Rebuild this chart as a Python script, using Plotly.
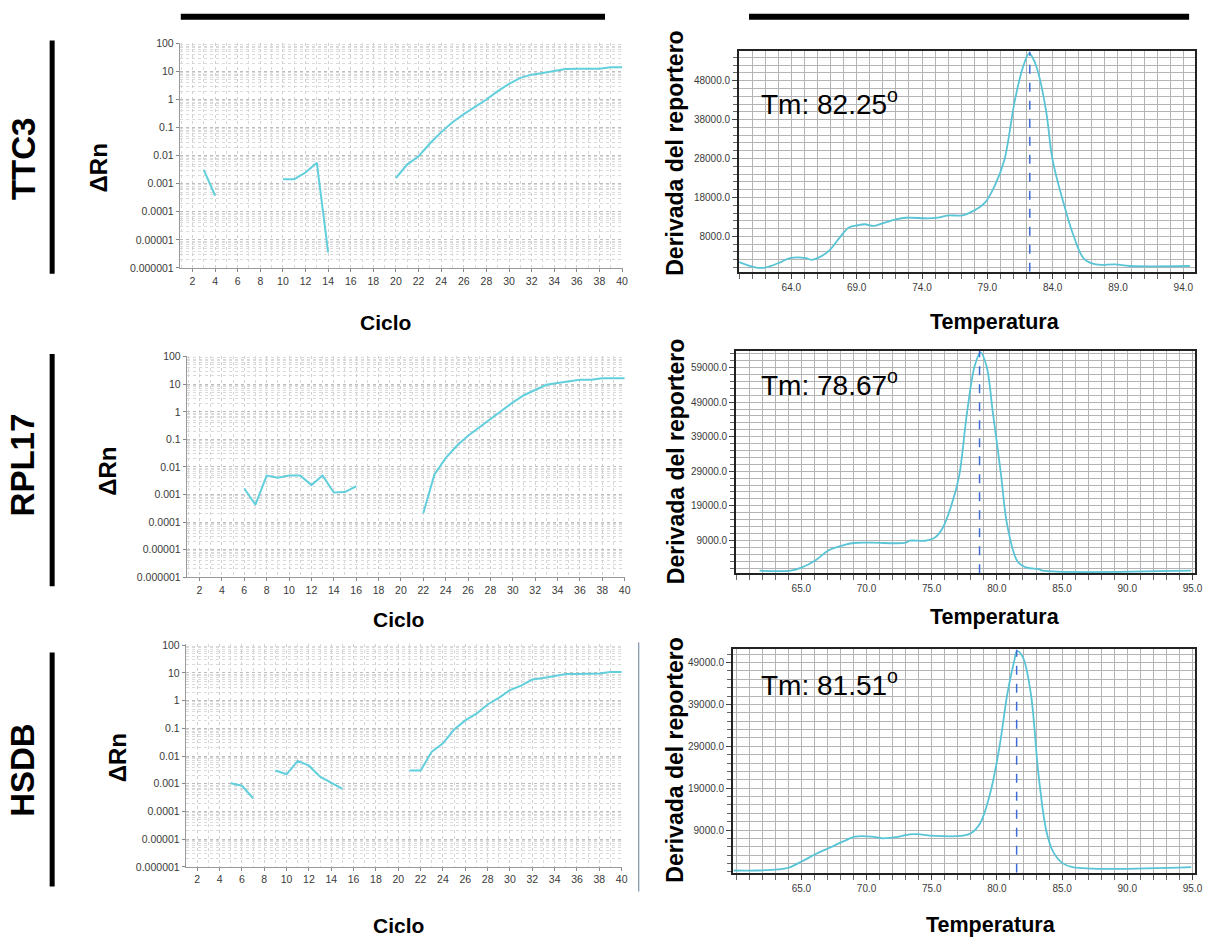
import plotly.graph_objects as go

W, H = 1214, 945

genes = ["TTC3", "RPL17", "HSDB"]
cycles = list(range(1, 41))
N = None
drn_ttc3 = [N, N, 0.0031, 0.00038, N, N, N, N, N, 0.00145, 0.00145, 0.0025, 0.0056, 3.6e-6,
            N, N, N, N, N, 0.0016, 0.0049, 0.0095, 0.027, 0.069, 0.155, 0.30, 0.55, 1.0, 2.0, 3.6,
            5.9, 7.7, 8.9, 10.7, 12.3, 12.6, 12.3, 12.6, 14.1, 14.1]
drn_rpl17 = [N, N, N, N, N, 0.00165, 0.00043, 0.0049, 0.0041, 0.0049, 0.0049, 0.0022, 0.0049,
             0.00118, 0.00123, 0.0020, N, N, N, N, N, 0.00021, 0.0054, 0.021, 0.059, 0.135, 0.275,
             0.55, 1.15, 2.2, 4.0, 6.3, 9.6, 11.2, 13.0, 14.5, 14.5, 16.6, 16.6, 16.6]
drn_hsdb = [N, N, N, N, 0.00105, 0.00085, 0.0003, N, 0.0030, 0.0022, 0.0067, 0.0045, 0.0018,
            0.00105, 0.00065, N, N, N, N, N, 0.003, 0.003, 0.0145, 0.029, 0.091, 0.194, 0.34,
            0.73, 1.26, 2.4, 3.5, 5.8, 6.6, 8.0, 9.2, 9.2, 9.2, 9.5, 10.9, 10.9]

log_tickvals = [1e-6, 1e-5, 1e-4, 1e-3, 1e-2, 1e-1, 1, 10, 100]
log_ticktext = ["0.000001", "0.00001", "0.0001", "0.001", "0.01", "0.1", "1", "10", "100"]

t_ttc3 = [60.0, 61.3, 62.0, 63.2, 63.9, 65.1, 65.5, 66.0, 66.9, 67.6, 68.4, 69.1, 69.6, 70.3, 70.9,
          72.0, 72.8, 74.4, 75.2, 76.0, 77.1, 77.9, 78.8, 79.6, 80.3, 81.1, 81.7, 82.2, 82.5, 82.9,
          83.5, 84.0, 84.9, 85.6, 86.4, 87.3, 88.8, 89.9, 94.5]
d_ttc3 = [1420, 0, 0, 1420, 2430, 2430, 2000, 2430, 4370, 7300, 10280, 10870, 11120, 10700, 11300,
          12390, 12800, 12640, 12800, 13400, 13400, 14500, 16600, 21250, 27600, 42800, 51200, 55000,
          53700, 50000, 40200, 27600, 15800, 8170, 2260, 830, 830, 400, 400]
t_rpl17 = [61.8, 64.2, 65.0, 66.1, 67.1, 68.2, 69.0, 70.4, 73.0, 73.3, 74.5, 75.2, 75.8, 76.5, 77.1,
           77.7, 78.3, 78.75, 79.2, 79.7, 80.3, 80.8, 81.6, 82.3, 83.2, 83.5, 94.9]
d_rpl17 = [240, 240, 1100, 3290, 6140, 7570, 8240, 8330, 8330, 8900, 8900, 9670, 12300, 19000, 27570,
           45670, 59480, 63400, 59480, 45670, 28520, 13290, 2810, 1100, 710, 240, 240]
t_hsdb = [59.8, 61.6, 63.2, 64.0, 65.05, 66.1, 67.2, 68.3, 69.1, 70.4, 71.2, 72.5, 73.3, 74.1, 74.9,
          77.4, 78.0, 78.7, 79.5, 80.2, 80.8, 81.3, 81.55, 82.0, 82.6, 83.2, 83.8, 84.3, 85.0, 85.8, 94.9]
d_hsdb = [-650, -650, -410, 0, 1550, 3270, 4840, 6410, 7430, 7430, 7040, 7430, 7980, 7980, 7670,
          7670, 8220, 10570, 18020, 29000, 41550, 49000, 51700, 50180, 41550, 21940, 8610, 3900, 1160,
          140, 140]
tm_values = [82.25, 78.67, 81.51]
tm_labels = ["Tm: 82.25<sup>o</sup>", "Tm: 78.67<sup>o</sup>", "Tm: 81.51<sup>o</sup>"]

# layout geometry (pixels): x0, x1, ytop, ybottom
amp_boxes = [(181, 627, 38, 266), (188, 629, 355, 579), (187, 626, 647, 872)]
amp_xr = [[0.88, 40.07], [0.86, 40.02], [0.97, 40.02]]
melt_boxes = [(744, 1203, 47, 270), (741, 1203, 350, 575), (738, 1203, 652, 878)]
melt_xr = [[60, 94.9], [60, 95.2], [59.76, 95.2]]
melt_yr = [[-1100, 55500], [-520, 63800], [-1200, 52140]]
melt_xticks = [[64, 69, 74, 79, 84, 89, 94], [65, 70, 75, 80, 85, 90, 95], [65, 70, 75, 80, 85, 90, 95]]
melt_yticks = [[8000, 18000, 28000, 38000, 48000], [9000, 19000, 29000, 39000, 49000, 59000],
               [9000, 19000, 29000, 39000, 49000]]


def fx(p):
    return p / W


def fy(p):
    return 1 - p / H


AMP_COLOR = "#62CFDD"
MELT_COLOR = "#58C4D6"
TM_COLOR = "#3D6CD6"
AMP_TICKFONT = dict(family="Liberation Sans, Arial", size=10.5, color="#3a3a3a")
MELT_TICKFONT = dict(family="Liberation Sans, Arial", size=10, color="#3a3a3a")
BOLD = "Liberation Sans, Arial, sans-serif"

fig = go.Figure()
layout = dict(width=W, height=H, margin=dict(l=0, r=0, t=0, b=0), paper_bgcolor="white",
              plot_bgcolor="white", showlegend=False)

amp_data = [drn_ttc3, drn_rpl17, drn_hsdb]
melt_t = [t_ttc3, t_rpl17, t_hsdb]
melt_d = [d_ttc3, d_rpl17, d_hsdb]

for i in range(3):
    ka = 2 * i + 1
    km = 2 * i + 2
    x0, x1, y0, y1 = amp_boxes[i]
    layout[f"xaxis{ka}"] = dict(domain=[fx(x0), fx(x1)], anchor=f"y{ka}", range=amp_xr[i],
                                tickmode="array", tickvals=list(range(2, 41, 2)),
                                ticks="outside", ticklen=3, tickcolor="#888",
                                showline=True, linecolor="#9a9a9a", linewidth=1,
                                showgrid=True, gridcolor="#d0d0d0", griddash="dot", gridwidth=1,
                                minor=dict(dtick=1, tick0=1, showgrid=True, gridcolor="#d8d8d8",
                                           griddash="dot"),
                                tickfont=AMP_TICKFONT, zeroline=False, mirror=False)
    layout[f"yaxis{ka}"] = dict(domain=[fy(y1), fy(y0)], anchor=f"x{ka}", type="log",
                                range=[-6, 2.03], tickmode="array", tickvals=log_tickvals,
                                ticktext=log_ticktext, ticks="outside", ticklen=3, tickcolor="#888",
                                showline=True, linecolor="#9a9a9a", linewidth=1,
                                showgrid=True, gridcolor="#bdbdbd", griddash="dot",
                                minor=dict(dtick="D1", showgrid=True, gridcolor="#dadada",
                                           griddash="dot"),
                                tickfont=AMP_TICKFONT, zeroline=False)
    fig.add_trace(go.Scatter(x=cycles, y=amp_data[i], mode="lines", connectgaps=False,
                             line=dict(color=AMP_COLOR, width=2),
                             xaxis=f"x{ka}", yaxis=f"y{ka}"))

    mx0, mx1, my0, my1 = melt_boxes[i]
    layout[f"xaxis{km}"] = dict(domain=[fx(mx0), fx(mx1)], anchor=f"y{km}", range=melt_xr[i],
                                tickmode="array", tickvals=melt_xticks[i],
                                ticktext=[f"{v:.1f}" for v in melt_xticks[i]],
                                ticks="outside", ticklen=5, tickcolor="#444",
                                showline=True, linecolor="#222", linewidth=2, mirror=True,
                                showgrid=True, gridcolor="#b4b4b4", gridwidth=1,
                                minor=dict(dtick=1, tick0=60, showgrid=True, gridcolor="#b4b4b4",
                                           ticks="outside", ticklen=5, tickcolor="#666"),
                                tickfont=MELT_TICKFONT, zeroline=False)
    layout[f"yaxis{km}"] = dict(domain=[fy(my1), fy(my0)], anchor=f"x{km}", range=melt_yr[i],
                                tickmode="array", tickvals=melt_yticks[i],
                                ticktext=[f"{v:.1f}" for v in melt_yticks[i]],
                                ticks="outside", ticklen=5, tickcolor="#444",
                                showline=True, linecolor="#222", linewidth=2, mirror=True,
                                showgrid=True, gridcolor="#b4b4b4", gridwidth=1,
                                minor=dict(dtick=2000, tick0=melt_yticks[i][0], showgrid=True,
                                           gridcolor="#b4b4b4", ticks="outside", ticklen=4,
                                           tickcolor="#666"),
                                tickfont=MELT_TICKFONT, zeroline=False)
    fig.add_trace(go.Scatter(x=melt_t[i], y=melt_d[i], mode="lines", line_shape="spline",
                             line=dict(color=MELT_COLOR, width=1.8),
                             xaxis=f"x{km}", yaxis=f"y{km}"))
    fig.add_trace(go.Scatter(x=[tm_values[i], tm_values[i]], y=[melt_yr[i][0], melt_yr[i][1]],
                             mode="lines", line=dict(color=TM_COLOR, width=1.5, dash="dash"),
                             xaxis=f"x{km}", yaxis=f"y{km}"))

fig.update_layout(**layout)

ann = []
for g, yy in zip(genes, [155, 465, 774]):
    ann.append(dict(text=f"<b>{g}</b>", x=fx(23), y=fy(yy), textangle=-90,
                    font=dict(family=BOLD, size=33, color="black")))
for (xx, yy) in [(99, 165), (108, 472), (118, 762)]:
    ann.append(dict(text="<b>ΔRn</b>", x=fx(xx), y=fy(yy), textangle=-90,
                    font=dict(family=BOLD, size=24, color="black")))
for (xx, yy) in [(388, 321), (401, 622), (401, 931)]:
    ann.append(dict(text="<b>Ciclo</b>", x=fx(xx), y=fy(yy),
                    font=dict(family=BOLD, size=21, color="black")))
for (xx, yy) in [(680, 150), (680, 462), (680, 764)]:
    ann.append(dict(text="<b>Derivada del reportero</b>", x=fx(xx), y=fy(yy), textangle=-90,
                    font=dict(family=BOLD, size=23, color="black")))
for (xx, yy) in [(1002, 321), (1002, 619), (998, 931)]:
    ann.append(dict(text="<b>Temperatura</b>", x=fx(xx), y=fy(yy),
                    font=dict(family=BOLD, size=21.5, color="black")))
for lab, yy in zip(tm_labels, [98, 382, 686]):
    ann.append(dict(text=lab, x=fx(764), y=fy(yy), xanchor="left",
                    font=dict(family="Liberation Sans, Arial", size=28, color="black")))
for a in ann:
    a.update(xref="paper", yref="paper", showarrow=False)
    a.setdefault("xanchor", "center")
    a.setdefault("yanchor", "middle")
fig.update_layout(annotations=ann)

shapes = []
for (a, b) in [(182, 609), (754, 1197)]:
    shapes.append(dict(type="line", x0=fx(a), x1=fx(b), y0=fy(12), y1=fy(12),
                       line=dict(color="black", width=6)))
for (a, b) in [(36, 272), (353, 588), (655, 892)]:
    shapes.append(dict(type="line", x0=fx(52.5), x1=fx(52.5), y0=fy(a), y1=fy(b),
                       line=dict(color="black", width=5)))
shapes.append(dict(type="line", x0=fx(643), x1=fx(643), y0=fy(645), y1=fy(897),
                   line=dict(color="#6a7c9a", width=1)))
for s in shapes:
    s.update(xref="paper", yref="paper")
fig.update_layout(shapes=shapes)

fig.write_html("out.html")
